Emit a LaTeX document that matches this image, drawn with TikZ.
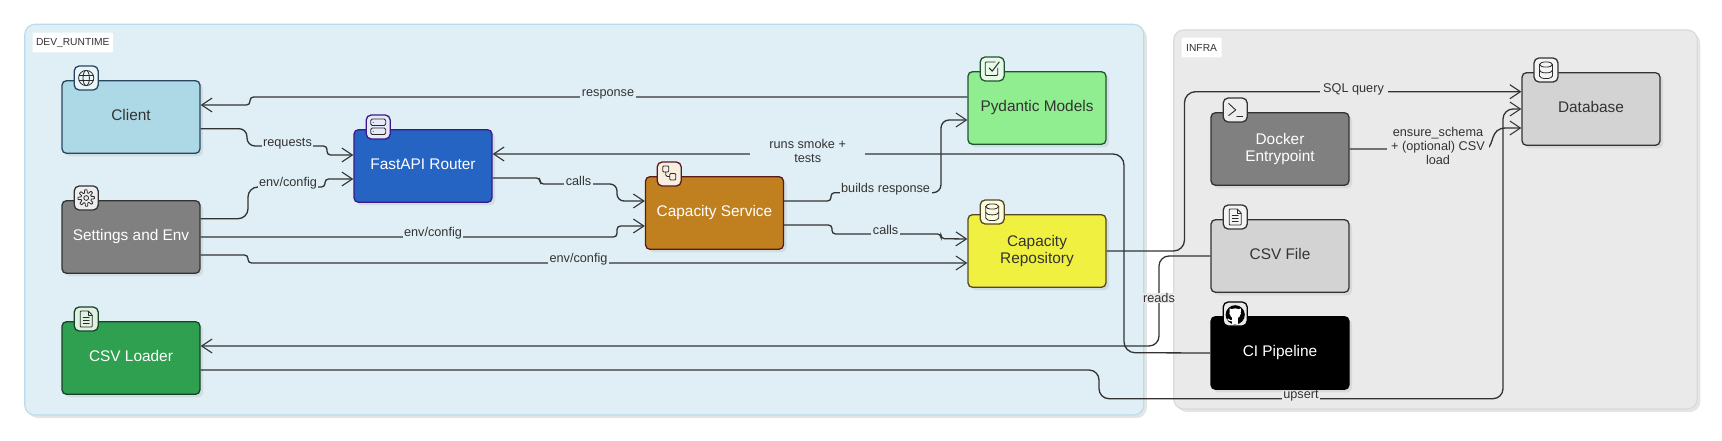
\documentclass[tikz,border=0pt]{standalone}
\usepackage{fontspec}
\setmainfont{Liberation Sans}
\usetikzlibrary{arrows.meta,shadows}
\definecolor{devbg}{HTML}{E0EFF5}
\definecolor{devln}{HTML}{B7DDEA}
\definecolor{infbg}{HTML}{EAEAEA}
\definecolor{infln}{HTML}{DADADA}
\definecolor{ink}{HTML}{333333}
\definecolor{iconc}{HTML}{2B2B2B}
\tikzset{
  clusterbox/.style={draw,line width=1.2pt,rounded corners=10pt,general shadow={fill=black,opacity=.1,shadow xshift=3pt,shadow yshift=-3pt}},
  clustertag/.style={fill=white,draw=none,text=ink,font=\fontsize{10.25}{12}\selectfont,inner sep=0pt,rounded corners=1pt},
  nodebox/.style={draw,line width=1.3pt,rounded corners=4.5pt,minimum width=138pt,minimum height=72.6pt,inner sep=0pt,align=center,
    font=\fontsize{15.4}{17}\selectfont,general shadow={fill=black,opacity=.07,shadow xshift=3pt,shadow yshift=-3pt}},
  oneline/.style={nodebox,text height=12pt,text depth=5pt},
  twoline/.style={nodebox,text height=29pt,text depth=5pt},
  badge/.style={draw,line width=1.3pt,rounded corners=5pt,minimum width=24pt,minimum height=24pt,inner sep=0pt},
  edge/.style={draw=ink,line width=1.3pt,rounded corners=3.5pt},
  arrowed/.style={edge,-{Straight Barb[length=10.5pt,width=14pt,line width=1.1pt]}},
  elabel/.style={text=ink,font=\fontsize{12.7}{14}\selectfont,inner xsep=1.5pt,inner ysep=0pt,align=center},
  ic/.style={draw=iconc,line width=.8pt,line cap=round,line join=round},
  iglobe/.pic={\draw[ic] (0,0) circle [radius=7.6];
    \draw[ic] (0,0) ellipse [x radius=3.2,y radius=7.6];
    \draw[ic] (-7,-2.6)--(7,-2.6) (-7,2.6)--(7,2.6);},
  igear/.pic={\draw[ic] plot[variable=\t,samples=145,domain=0:360] ({(6.7+1.5*max(-1,min(1,2*cos(8*\t+22.5))))*cos(\t)},{(6.7+1.5*max(-1,min(1,2*cos(8*\t+22.5))))*sin(\t)}) -- cycle;
    \draw[ic] (0,0) circle [radius=2.4];},
  iserver/.pic={\draw[ic,rounded corners=1.5pt] (-7.5,-8) rectangle (7.5,-1.5) (-7.5,1) rectangle (7.5,7.5);
    \fill[iconc] (-5,-4.7) circle [radius=.5] (-5,4.3) circle [radius=.5];},
  iflow/.pic={\draw[ic,rounded corners=1pt] (-6.5,-8) rectangle (-.5,-2) (.5,-.5) rectangle (6.5,6);
    \draw[ic,rounded corners=1.5pt] (-3.5,-2) -- (-3.5,2.5) -- (.5,2.5);},
  icheck/.pic={\draw[ic,rounded corners=1pt] (5.5,-1) -- (5.5,6.5) -- (-7,6.5) -- (-7,-7) -- (3,-7);
    \draw[ic,line width=1pt] (-3,-1) -- (0,2.2) -- (7,-7);},
  idb/.pic={\draw[ic] (-6.5,-5.5) -- (-6.5,6) arc[start angle=180,end angle=360,x radius=6.5,y radius=-2.6] -- (6.5,-5.5);
    \draw[ic] (0,-5.5) ellipse [x radius=6.5,y radius=2.6];
    \draw[ic] (-6.5,.3) arc[start angle=180,end angle=360,x radius=6.5,y radius=-2.6];},
  ifile/.pic={\draw[ic,rounded corners=.8pt] (2,-8) -- (-6,-8) -- (-6,8) -- (6,8) -- (6,-4) -- cycle;
    \draw[ic] (2,-8) -- (2,-4) -- (6,-4) (-3,-1.5) -- (3,-1.5) (-3,1.5) -- (3,1.5) (-3,4.5) -- (3,4.5);},
  iterm/.pic={\draw[ic,line width=.9pt] (-6.5,-6.5) -- (.5,0) -- (-6.5,5.5) (1.5,6.5) -- (7.5,6.5);},
  igit/.pic={\fill[black] (0,.8) circle [radius=9.6];
    \fill[white] (0,-.6) ellipse [x radius=5.8,y radius=5];
    \fill[white] (-5.6,-5.6) -- (-2.4,-4.4) -- (-5.6,-1.5) -- cycle (5.6,-5.6) -- (2.4,-4.4) -- (5.6,-1.5) -- cycle;
    \fill[white] (-2.8,3) rectangle (2.8,10.4);
    \draw[white,line width=1.3pt] (-2.8,6.8) .. controls (-5.5,7.5) and (-6,5.5) .. (-7.5,5);},
}
\begin{document}
\begin{tikzpicture}[x=1pt,y=-1pt]
\useasboundingbox (0,0) rectangle (1722,441);
\fill[white] (0,0) rectangle (1722,441);
% clusters
\node[clusterbox,fill=devbg,draw=devln,minimum width=1119pt,minimum height=390.7pt] (dev) at (584.3,219.7) {};
\node[clusterbox,fill=infbg,draw=infln,minimum width=523.5pt,minimum height=379pt] (infra) at (1435.5,219.5) {};
\node[clustertag,minimum width=80.5pt,minimum height=19.6pt] (devtag) at (72.8,42.5) {DEV\_RUNTIME};
\node[clustertag,minimum width=39.8pt,minimum height=19.6pt] (inftag) at (1201.6,47.5) {INFRA};
% nodes
\node[oneline,fill={rgb,255:red,173;green,216;blue,230},draw={rgb,255:red,38;green,70;blue,96},text=ink] (client) at (131,117) {Client};
\node[oneline,fill={rgb,255:red,128;green,128;blue,128},draw=ink,text=white] (settings) at (131,237) {Settings and Env};
\node[oneline,fill={rgb,255:red,47;green,160;blue,80},draw={rgb,255:red,24;green,66;blue,38},text=white] (loader) at (131,358) {CSV Loader};
\node[oneline,fill={rgb,255:red,38;green,100;blue,196},draw={rgb,255:red,60;green,24;blue,140},text=white] (router) at (423,166) {FastAPI Router};
\node[oneline,fill={rgb,255:red,192;green,128;blue,32},draw={rgb,255:red,90;green,26;blue,26},text=white] (service) at (714.5,213) {Capacity Service};
\node[oneline,fill={rgb,255:red,144;green,238;blue,144},draw={rgb,255:red,32;green,84;blue,48},text=ink] (pydantic) at (1037,108) {Pydantic Models};
\node[twoline,fill={rgb,255:red,240;green,240;blue,64},draw={rgb,255:red,84;green,72;blue,36},text=ink] (repo) at (1037,251) {Capacity\\Repository};
\node[oneline,fill={rgb,255:red,211;green,211;blue,211},draw=ink,text=ink] (db) at (1591,109) {Database};
\node[twoline,fill={rgb,255:red,128;green,128;blue,128},draw=ink,text=white] (docker) at (1280,149) {Docker\\Entrypoint};
\node[oneline,fill={rgb,255:red,211;green,211;blue,211},draw=ink,text=ink] (csvfile) at (1280,256) {CSV File};
\node[oneline,fill=black,draw=black,text=white] (ci) at (1280,353) {CI Pipeline};
% badges
\node[badge,fill={rgb,255:red,233;green,245;blue,249},draw={rgb,255:red,38;green,70;blue,96}] (bclient) at (86.2,78) {};
\node[badge,fill={rgb,255:red,238;green,238;blue,238},draw=ink] (bsettings) at (86.2,198) {};
\node[badge,fill={rgb,255:red,222;green,241;blue,226},draw={rgb,255:red,24;green,66;blue,38}] (bloader) at (86.2,319) {};
\node[badge,fill={rgb,255:red,230;green,234;blue,248},draw={rgb,255:red,60;green,24;blue,140}] (brouter) at (378.2,127) {};
\node[badge,fill={rgb,255:red,250;green,238;blue,224},draw={rgb,255:red,90;green,26;blue,26}] (bservice) at (669.2,174) {};
\node[badge,fill={rgb,255:red,232;green,251;blue,232},draw={rgb,255:red,32;green,84;blue,48}] (bpydantic) at (992.2,69) {};
\node[badge,fill={rgb,255:red,253;green,252;blue,222},draw={rgb,255:red,84;green,72;blue,36}] (brepo) at (992.2,212) {};
\node[badge,fill={rgb,255:red,244;green,244;blue,244},draw=ink] (bdb) at (1546,70) {};
\node[badge,fill={rgb,255:red,238;green,238;blue,238},draw=ink] (bdocker) at (1235.2,110) {};
\node[badge,fill={rgb,255:red,244;green,244;blue,244},draw=ink] (bcsvfile) at (1235.2,217) {};
\node[badge,fill={rgb,255:red,235;green,235;blue,235},draw=black] (bci) at (1235.2,314) {};
\pic at (bclient.center) {iglobe};
\pic at (bsettings.center) {igear};
\pic at (bloader.center) {ifile};
\pic at (brouter.center) {iserver};
\pic at (bservice.center) {iflow};
\pic at (bpydantic.center) {icheck};
\pic at (brepo.center) {idb};
\pic at (bdb.center) {idb};
\pic at (bdocker.center) {iterm};
\pic at (bcsvfile.center) {ifile};
\pic at (bci.center) {igit};
% connectors
\draw[arrowed] ([yshift=11pt]pydantic.west) -- (250,97) -- (250,105) -- ([yshift=12pt]client.east);
\draw[arrowed] ([yshift=-11.7pt]client.east) [rounded corners=8pt] -- (247,128.7) -- (247,146) [rounded corners=3.5pt] -- (327,146) -- (327,155) -- ([yshift=11pt]router.west);
\draw[arrowed] ([yshift=18.3pt]settings.east) [rounded corners=10pt] -- (248,218.7) -- (248,187) [rounded corners=3.5pt] -- (325,187) -- (325,179) -- ([yshift=-13pt]router.west);
\draw[arrowed] (settings.east) -- (617,237) -- (617,226) -- ([yshift=-13pt]service.west);
\draw[arrowed] ([yshift=-18pt]settings.east) -- (248,255) -- (248,263) -- ([yshift=-12pt]repo.west);
\draw[arrowed] ([yshift=-12pt]router.east) -- (540,178) -- (540,184) [rounded corners=7pt] -- (617,184) -- (617,201) -- ([yshift=12pt]service.west);
\draw[arrowed] ([yshift=12pt]service.east) -- (831,201) -- (831,192.7) [rounded corners=8pt] -- (941,192.7) -- (941,120) -- ([yshift=-12pt]pydantic.west);
\draw[arrowed] ([yshift=-12pt]service.east) -- (832,225) -- (832,234) -- (941,234) -- (941,238.7) -- ([yshift=12pt]repo.west);
\draw[arrowed,rounded corners=11pt] (ci.west) -- (1124,352.7) -- (1124,154) -- ([yshift=12pt]router.east);
\draw[arrowed,rounded corners=10pt] (csvfile.west) -- (1159,256) -- (1159,346) -- ([yshift=12pt]loader.east);
\draw[arrowed] ([yshift=-12pt]loader.east) [rounded corners=10pt] -- (1099,370) -- (1099,398.7) -- (1503,398.7) -- (1503,109) -- (db.west);
\draw[arrowed,rounded corners=11pt] (repo.east) -- (1184.5,251) -- (1184.5,91.7) -- ([yshift=17.3pt]db.west);
\draw[arrowed,sharp corners] (docker.east) -- (1486,149) .. controls (1495,146) and (1489,128) .. (1506,128) -- ([yshift=-19pt]db.west);
% labels
\node[elabel,fill=devbg] (lresponse) at (608,94.5) {response};
\node[elabel,fill=devbg] (lrequests) at (287.5,143.5) {requests};
\node[elabel,fill=devbg] (lenv1) at (288,183.5) {env/config};
\node[elabel,fill=devbg] (lenv2) at (433,233.5) {env/config};
\node[elabel,fill=devbg] (lenv3) at (578.5,259) {env/config};
\node[elabel,fill=devbg] (lcalls1) at (578.5,180.5) {calls};
\node[elabel,fill=devbg] (lbuilds) at (885.6,189) {builds response};
\node[elabel,fill=devbg] (lcalls2) at (885.6,230) {calls};
\node[elabel,fill=devbg,minimum width=115pt] (lruns) at (807.7,151) {runs smoke +\\tests};
\node[elabel,fill=infbg] (lreads) at (1159,298) {reads};
\node[elabel,fill=infbg] (lupsert) at (1301,396) {upsert};
\node[elabel,fill=infbg,minimum width=68pt] (lsql) at (1353.5,89) {SQL query};
\node[elabel,fill=infbg,minimum width=102pt] (lensure) at (1438,145.5) {ensure\_schema\\+ (optional) CSV\\load};
\end{tikzpicture}
\end{document}
